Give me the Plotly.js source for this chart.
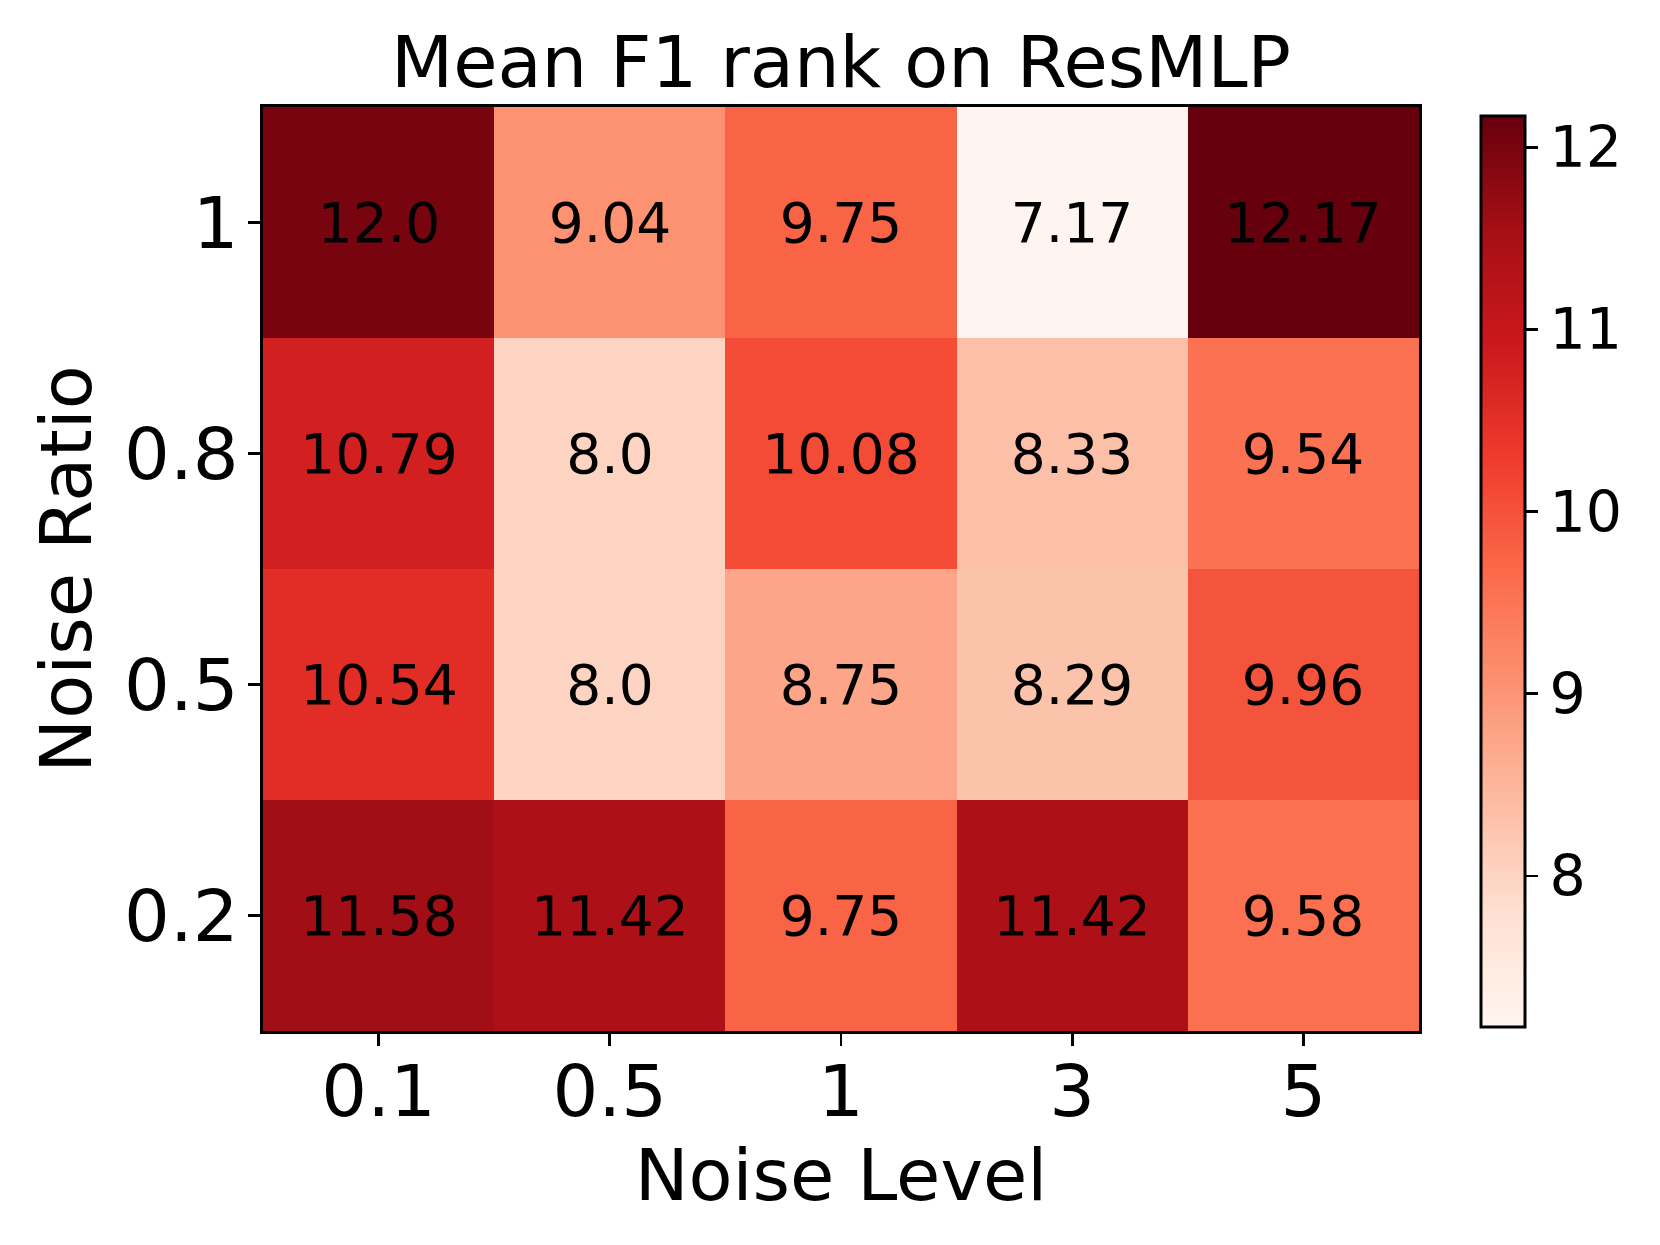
<!DOCTYPE html>
<html>
<head>
<meta charset="utf-8">
<script src="https://cdn.plot.ly/plotly-3.0.1.min.js"></script>
<style>html,body{margin:0;padding:0;background:#fff;}#chart{width:1660px;height:1245px;}</style>
</head>
<body>
<div id="chart"></div>
<script>
// Data
const noiseLevels = ['0.1', '0.5', '1', '3', '5'];
const noiseRatios = ['0.2', '0.5', '0.8', '1'];
const row02 = [11.58, 11.42, 9.75, 11.42, 9.58];
const row05 = [10.54, 8.0, 8.75, 8.29, 9.96];
const row08 = [10.79, 8.0, 10.08, 8.33, 9.54];
const row10 = [12.0, 9.04, 9.75, 7.17, 12.17];
const labels02 = ['11.58', '11.42', '9.75', '11.42', '9.58'];
const labels05 = ['10.54', '8.0', '8.75', '8.29', '9.96'];
const labels08 = ['10.79', '8.0', '10.08', '8.33', '9.54'];
const labels10 = ['12.0', '9.04', '9.75', '7.17', '12.17'];
const colorbarTicks = [8, 9, 10, 11, 12];

const redsHex = ['#fff5f0', '#fee0d2', '#fcbba1', '#fc9272', '#fb6a4a', '#ef3b2c', '#cb181d', '#a50f15', '#67000d'];
const reds = redsHex.map((c, i) => [i / (redsHex.length - 1), c]);

const F = 'DejaVu Sans, sans-serif';

const trace = {
  type: 'heatmap',
  x: noiseLevels,
  y: noiseRatios,
  z: [row02, row05, row08, row10],
  text: [labels02, labels05, labels08, labels10],
  texttemplate: '%{text}',
  textfont: {family: F, size: 55, color: '#000'},
  colorscale: reds,
  zmin: 7.17,
  zmax: 12.17,
  hoverinfo: 'none',
  colorbar: {
    x: 1.0536, xanchor: 'left', xref: 'paper',
    y: 0.497, yanchor: 'middle', len: 0.986, lenmode: 'fraction',
    thickness: 44, thicknessmode: 'pixels',
    outlinewidth: 3, outlinecolor: '#000',
    tickmode: 'array', tickvals: colorbarTicks, ticktext: colorbarTicks.map(String),
    ticks: 'outside', ticklen: 12, tickwidth: 2.8, tickcolor: '#000',
    tickfont: {family: F, size: 57, color: '#000'},
    xpad: 0, ypad: 0
  }
};

const layout = {
  width: 1660, height: 1245,
  margin: {l: 263, r: 241, t: 107, b: 214, pad: 0},
  paper_bgcolor: '#fff', plot_bgcolor: '#fff',
  title: {text: 'Mean F1 rank on ResMLP', font: {family: F, size: 72, color: '#000'},
          x: 841 / 1660, xanchor: 'center', xref: 'container', y: 1 - 62 / 1245, yanchor: 'middle', yref: 'container'},
  xaxis: {
    type: 'category', showgrid: false, zeroline: false,
    showline: true, linecolor: '#000', linewidth: 3, mirror: true,
    ticks: 'outside', ticklen: 12, tickwidth: 2.8, tickcolor: '#000',
    ticklabelstandoff: -16,
    tickfont: {family: F, size: 72, color: '#000'},
    title: {text: 'Noise Level', font: {family: F, size: 72, color: '#000'}, standoff: 14},
    automargin: false
  },
  yaxis: {
    type: 'category', showgrid: false, zeroline: false,
    showline: true, linecolor: '#000', linewidth: 3, mirror: true,
    ticks: 'outside', ticklen: 12, tickwidth: 2.8, tickcolor: '#000',
    ticklabelstandoff: -5,
    tickfont: {family: F, size: 72, color: '#000'},
    title: {text: 'Noise Ratio', font: {family: F, size: 72, color: '#000'}, standoff: 9},
    automargin: false
  }
};

Plotly.newPlot('chart', [trace], layout, {displayModeBar: false, staticPlot: true});
</script>
</body>
</html>
